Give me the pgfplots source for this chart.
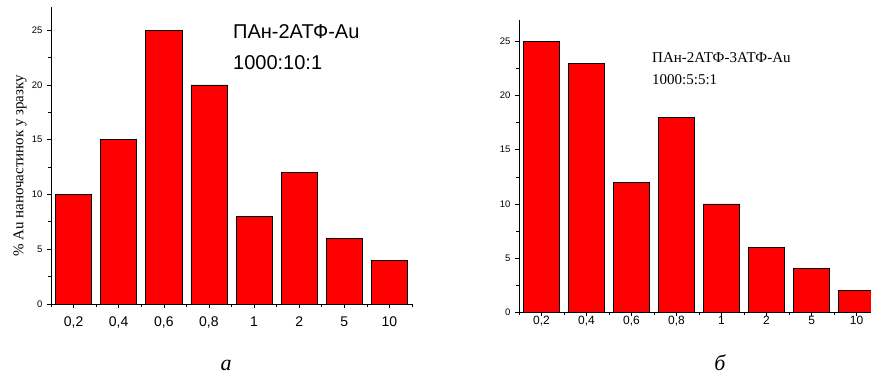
\documentclass[border=0pt]{standalone}
\usepackage{pgfplots}
\pgfplotsset{compat=1.18}
\usepackage{fontspec}
\setmainfont{Liberation Serif}
\newfontfamily\arial{Liberation Sans}
\begin{document}
\begin{tikzpicture}
\path[use as bounding box] (0pt,0pt) rectangle (871pt,374pt);
\pgfplotsset{
  hist/.style={
    scale only axis,
    axis x line*=bottom, axis y line*=left,
    axis line style={black, line width=0.8pt},
    tick align=outside,
    major tick length=4pt, minor tick length=3pt,
    tick style={black, line width=0.6pt},
    ymin=0, ytick={0,5,...,25}, minor y tick num=1,
    xmin=-0.5,
    xtick={0,...,7},
    minor xtick={-0.5,0.5,...,7.5},
    xticklabels={{0,2},{0,4},{0,6},{0,8},1,2,5,10},
    ybar, bar width=0.8,
    /pgf/number format/assume math mode=true,
    yticklabel style={font=\arial\fontsize{9.5}{10}\selectfont, xshift=-1pt},
    clip=true,
  },
  barsty/.style={fill=red, draw=black, line width=0.6pt},
}
% panel a
\begin{axis}[hist, at={(51pt,70pt)}, anchor=south west,
  width=361pt, height=297pt, xmax=7.5, ymax=27.1,
  xticklabel style={font=\arial\fontsize{14}{15}\selectfont, yshift=-5pt},
  ylabel={\% Au наночастинок у зразку},
  ylabel style={at={(axis description cs:-0.086,0.465)}, anchor=center, font=\fontsize{15}{15}\selectfont},
]
\addplot[barsty] coordinates {(0,10) (1,15) (2,25) (3,20) (4,8) (5,12) (6,6) (7,4)};
\end{axis}
\node[anchor=base west, font=\arial\fontsize{20}{20}\selectfont, inner sep=0] at (233pt,335pt) {ПАн-2АТФ-Au};
\node[anchor=base west, font=\arial\fontsize{20}{20}\selectfont, inner sep=0] at (233pt,304pt) {1000:10:1};
\node[anchor=base, font=\itshape\fontsize{22}{22}\selectfont, inner sep=0] at (226pt,3pt) {а};
% panel b
\begin{axis}[hist, at={(519pt,62pt)}, anchor=south west,
  width=352pt, height=292pt, xmax=7.32, ymax=27.0,
  xticklabel style={font=\arial\fontsize{12}{13}\selectfont, yshift=3pt},
]
\addplot[barsty] coordinates {(0,25) (1,23) (2,12) (3,18) (4,10) (5,6) (6,4) (7,2)};
\end{axis}
\node[anchor=base west, font=\fontsize{15}{15}\selectfont, inner sep=0] at (652pt,311pt) {ПАн-2АТФ-3АТФ-Au};
\node[anchor=base west, font=\fontsize{15}{15}\selectfont, inner sep=0] at (652pt,289pt) {1000:5:5:1};
\node[anchor=base, font=\itshape\fontsize{22}{22}\selectfont, inner sep=0] at (720pt,3pt) {б};
\end{tikzpicture}
\end{document}
